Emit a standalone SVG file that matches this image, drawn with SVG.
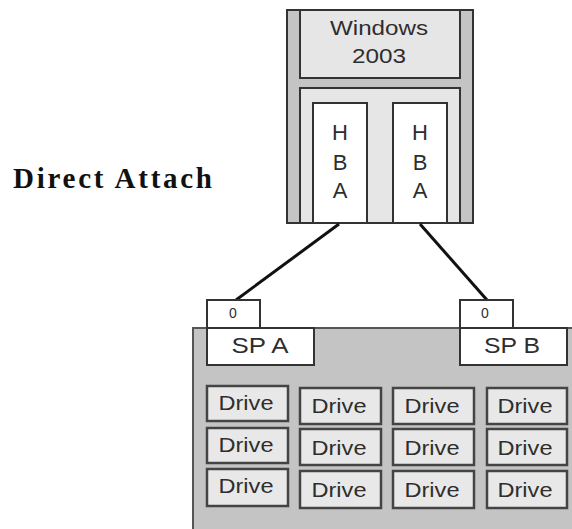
<svg xmlns="http://www.w3.org/2000/svg" width="572" height="529" viewBox="0 0 572 529">
<style>
.t{font-family:"Liberation Sans",Arial,sans-serif;fill:#2e2e2e;text-anchor:middle}
.box{stroke:#333;stroke-width:2}
.drive{fill:#e8e8e8;stroke:#444;stroke-width:2.5}
.dt{font-family:"Liberation Sans",Arial,sans-serif;fill:#2e2e2e;text-anchor:middle;font-size:20px}
</style>
<rect width="572" height="529" fill="#fff"/>
<text x="13" y="188" font-family="'Liberation Serif','Times New Roman',serif" font-weight="bold" font-size="29" fill="#111" textLength="199" lengthAdjust="spacing">Direct Attach</text>
<g id="server">
<rect x="287" y="10" width="186" height="213" fill="#c4c4c4" class="box"/>
<rect x="300" y="10" width="160" height="68" fill="#e6e6e6" class="box"/>
<text x="379" y="35" class="t" font-size="21" textLength="98" lengthAdjust="spacingAndGlyphs">Windows</text>
<text x="379" y="63" class="t" font-size="21" textLength="54" lengthAdjust="spacingAndGlyphs">2003</text>
<rect x="300" y="88" width="160" height="135" fill="#e6e6e6" class="box"/>
</g>
<g id="hba1">
<rect x="313" y="103" width="54" height="120" fill="#fff" class="box"/>
<text x="340" y="140" class="t" font-size="22">H</text>
<text x="340" y="170" class="t" font-size="22">B</text>
<text x="340" y="198" class="t" font-size="22">A</text>
</g>
<g id="hba2">
<rect x="393" y="103" width="54" height="120" fill="#fff" class="box"/>
<text x="420" y="140" class="t" font-size="22">H</text>
<text x="420" y="170" class="t" font-size="22">B</text>
<text x="420" y="198" class="t" font-size="22">A</text>
</g>
<g id="connectors" stroke="#111" stroke-width="3">
<line x1="339" y1="224" x2="236" y2="300"/>
<line x1="420" y1="224" x2="487" y2="300"/>
</g>
<g id="storage">
<rect x="193" y="328" width="381" height="203" fill="#c4c4c4" stroke="#555" stroke-width="2"/>
</g>
<g id="spa">
<rect x="207" y="300" width="53" height="28" fill="#fff" class="box"/>
<text x="233" y="318" class="t" font-size="14">0</text>
<rect x="207" y="328" width="107" height="37" fill="#fff" class="box"/>
<text x="260" y="353" class="t" font-size="22" textLength="57" lengthAdjust="spacingAndGlyphs">SP A</text>
</g>
<g id="spb">
<rect x="460" y="300" width="53" height="28" fill="#fff" class="box"/>
<text x="485" y="318" class="t" font-size="14">0</text>
<rect x="460" y="328" width="107" height="37" fill="#fff" class="box"/>
<text x="512" y="353" class="t" font-size="22" textLength="56" lengthAdjust="spacingAndGlyphs">SP B</text>
</g>
<g id="drives">
<g id="d11"><rect x="207" y="386" width="81" height="35" class="drive"/><text x="246" y="410" class="dt" textLength="55" lengthAdjust="spacingAndGlyphs">Drive</text></g>
<g id="d12"><rect x="300" y="388" width="81" height="36" class="drive"/><text x="339" y="413" class="dt" textLength="55" lengthAdjust="spacingAndGlyphs">Drive</text></g>
<g id="d13"><rect x="393" y="388" width="81" height="36" class="drive"/><text x="432" y="413" class="dt" textLength="55" lengthAdjust="spacingAndGlyphs">Drive</text></g>
<g id="d14"><rect x="487" y="388" width="80" height="36" class="drive"/><text x="525" y="413" class="dt" textLength="55" lengthAdjust="spacingAndGlyphs">Drive</text></g>
<g id="d21"><rect x="207" y="428" width="81" height="35" class="drive"/><text x="246" y="452" class="dt" textLength="55" lengthAdjust="spacingAndGlyphs">Drive</text></g>
<g id="d22"><rect x="300" y="429" width="81" height="36" class="drive"/><text x="339" y="455" class="dt" textLength="55" lengthAdjust="spacingAndGlyphs">Drive</text></g>
<g id="d23"><rect x="393" y="429" width="81" height="36" class="drive"/><text x="432" y="455" class="dt" textLength="55" lengthAdjust="spacingAndGlyphs">Drive</text></g>
<g id="d24"><rect x="487" y="429" width="80" height="36" class="drive"/><text x="525" y="455" class="dt" textLength="55" lengthAdjust="spacingAndGlyphs">Drive</text></g>
<g id="d31"><rect x="207" y="469" width="81" height="37" class="drive"/><text x="246" y="493" class="dt" textLength="55" lengthAdjust="spacingAndGlyphs">Drive</text></g>
<g id="d32"><rect x="300" y="471" width="81" height="37" class="drive"/><text x="339" y="497" class="dt" textLength="55" lengthAdjust="spacingAndGlyphs">Drive</text></g>
<g id="d33"><rect x="393" y="471" width="81" height="37" class="drive"/><text x="432" y="497" class="dt" textLength="55" lengthAdjust="spacingAndGlyphs">Drive</text></g>
<g id="d34"><rect x="487" y="471" width="80" height="37" class="drive"/><text x="525" y="497" class="dt" textLength="55" lengthAdjust="spacingAndGlyphs">Drive</text></g>
</g>
</svg>
